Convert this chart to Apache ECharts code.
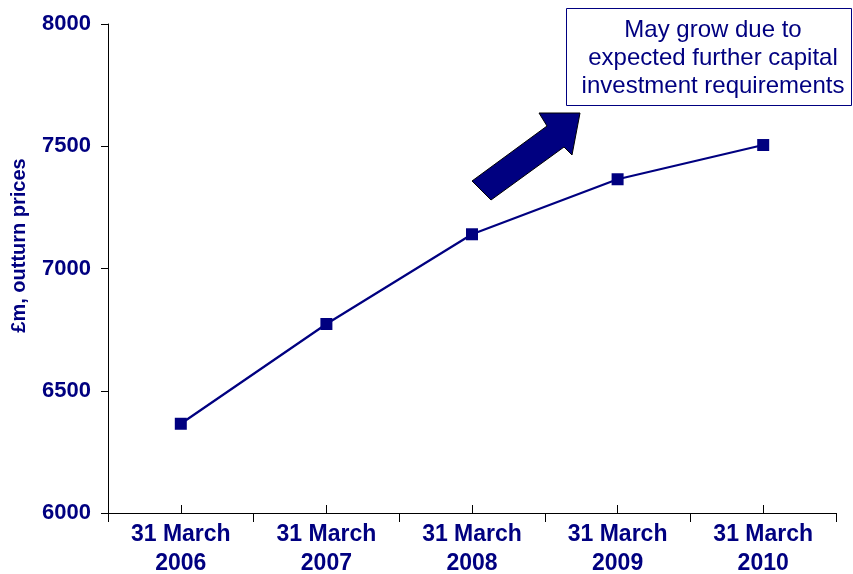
<!DOCTYPE html>
<html>
<head>
<meta charset="utf-8">
<script src="https://cdn.jsdelivr.net/npm/echarts@6/dist/echarts.min.js"></script>
<style>html,body{margin:0;padding:0;background:#fff;}#chart{width:853px;height:574px;}</style>
</head>
<body>
<div id="chart"></div>
<script>
var categories = ['31 March\n2006', '31 March\n2007', '31 March\n2008', '31 March\n2009', '31 March\n2010'];
var values = [6365, 6773, 7140, 7365, 7505];
var yTicks = { min: 6000, max: 8000, interval: 500 };
var yAxisName = '£m, outturn prices';
var noteText = 'May grow due to\nexpected further capital\ninvestment requirements';

var navy = '#000080';
var font = 'Arial, "Liberation Sans", sans-serif';
var chart = echarts.init(document.getElementById('chart'));
var gridBox = { left: 108, top: 24, right: 17, bottom: 61, containLabel: false, outerBoundsMode: 'none' };

chart.setOption({
  animation: false,
  backgroundColor: '#fff',
  grid: [
    Object.assign({}, gridBox),
    Object.assign({}, gridBox)
  ],
  xAxis: [{
    type: 'category',
    gridIndex: 0,
    data: categories,
    boundaryGap: true,
    axisLine: { lineStyle: { color: '#000', width: 1 } },
    axisTick: { show: true, inside: false, length: 9, alignWithLabel: false, lineStyle: { color: '#000' } },
    axisLabel: { color: navy, fontFamily: font, fontWeight: 'bold', fontSize: 23, lineHeight: 29, margin: 7, interval: 0 },
    splitLine: { show: false }
  }, {
    type: 'category',
    gridIndex: 1,
    data: categories,
    position: 'bottom',
    boundaryGap: true,
    axisLine: { show: false },
    axisTick: { show: true, inside: true, length: 8, alignWithLabel: true, lineStyle: { color: '#000' } },
    axisLabel: { show: false },
    splitLine: { show: false }
  }],
  yAxis: [{
    type: 'value',
    gridIndex: 0,
    min: yTicks.min, max: yTicks.max, interval: yTicks.interval,
    name: yAxisName,
    nameLocation: 'middle',
    nameGap: 79,
    nameRotate: 90,
    nameTextStyle: { color: navy, fontFamily: font, fontWeight: 'bold', fontSize: 20, padding: [0, 0, 0, 46] },
    axisLine: { show: true, lineStyle: { color: '#000', width: 1 } },
    axisTick: { show: true, inside: false, length: 7, lineStyle: { color: '#000' } },
    axisLabel: { color: navy, fontFamily: font, fontWeight: 'bold', fontSize: 22, margin: 17, formatter: function (v) { return String(v); } },
    splitLine: { show: false }
  }, {
    type: 'value',
    gridIndex: 1,
    min: yTicks.min, max: yTicks.max, interval: yTicks.interval,
    show: false
  }],
  series: [{
    type: 'line',
    xAxisIndex: 0,
    yAxisIndex: 0,
    data: values,
    symbol: 'rect',
    symbolSize: 12,
    lineStyle: { color: navy, width: 2.2 },
    itemStyle: { color: navy },
    z: 3
  }],
  graphic: [{
    type: 'rect',
    left: 566, top: 8,
    shape: { width: 285, height: 97 },
    style: { fill: '#fff', stroke: navy, lineWidth: 1 }
  }, {
    type: 'text',
    x: 713, y: 58,
    style: {
      text: noteText,
      fill: navy,
      font: '24px ' + font,
      lineHeight: 28,
      align: 'center',
      verticalAlign: 'middle'
    }
  }, {
    type: 'polygon',
    shape: { points: [[472, 181], [547, 126], [539, 113], [580, 113], [572, 155], [564, 147], [491, 200]] },
    style: { fill: navy, stroke: '#000', lineWidth: 1 }
  }]
});
</script>
</body>
</html>
